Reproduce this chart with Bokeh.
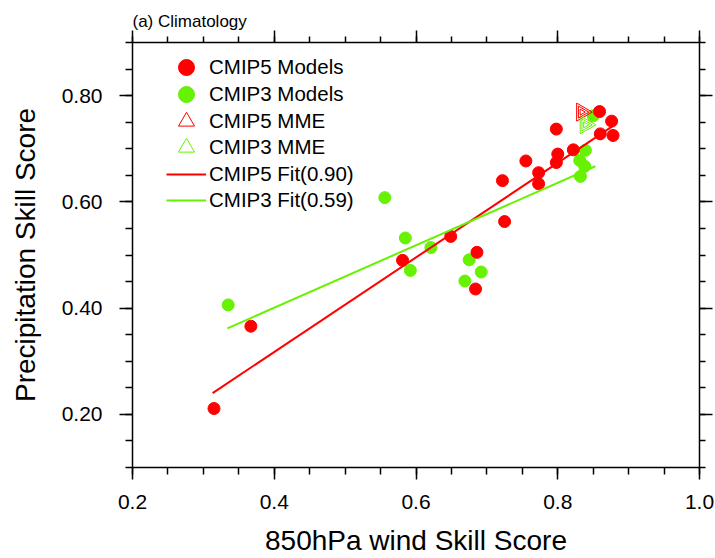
import math
from bokeh.plotting import figure
from bokeh.models import (Range1d, LinearAxis, FixedTicker, NumeralTickFormatter,
                          Legend, LegendItem, CustomLabelingPolicy)
from bokeh.embed import file_html
from bokeh.resources import INLINE

# ---------------- data ----------------
cmip5_x = [0.859, 0.876, 0.798, 0.860, 0.878, 0.822, 0.800, 0.798, 0.755, 0.773,
           0.773, 0.722, 0.725, 0.649, 0.581, 0.686, 0.684, 0.367, 0.315]
cmip5_y = [0.770, 0.752, 0.737, 0.728, 0.725, 0.698, 0.690, 0.674, 0.677, 0.655,
           0.634, 0.640, 0.563, 0.535, 0.490, 0.505, 0.436, 0.366, 0.211]

cmip3_x = [0.850, 0.839, 0.831, 0.838, 0.832, 0.556, 0.585, 0.621, 0.592, 0.675,
           0.692, 0.669, 0.335]
cmip3_y = [0.762, 0.697, 0.678, 0.667, 0.648, 0.608, 0.532, 0.514, 0.471, 0.491,
           0.468, 0.451, 0.406]

mme5_x = [0.834]
mme5_y = [0.769]
mme3_x = [0.839]
mme3_y = [0.745]

fit5_x = [0.313, 0.877]
fit5_y = [0.240, 0.742]
fit3_x = [0.334, 0.853]
fit3_y = [0.362, 0.667]

legend_labels = ["CMIP5 Models", "CMIP3 Models", "CMIP5 MME", "CMIP3 MME",
                 "CMIP5 Fit(0.90)", "CMIP3 Fit(0.59)"]

x_ticks = [0.2, 0.4, 0.6, 0.8, 1.0]
x_minor_ticks = [0.2, 0.25, 0.3, 0.35, 0.4, 0.45, 0.5, 0.55, 0.6, 0.65, 0.7, 0.75,
                 0.8, 0.85, 0.9, 0.95, 1.0]
y_ticks = [0.2, 0.4, 0.6, 0.8]
y_minor_ticks = [0.1, 0.15, 0.2, 0.25, 0.3, 0.35, 0.4, 0.45, 0.5, 0.55, 0.6, 0.65,
                 0.7, 0.75, 0.8, 0.85, 0.9]

title_text = "(a) Climatology"
x_title = "850hPa wind Skill Score"
y_title = "Precipitation Skill Score"

RED = "#ff0000"
GREEN = "#66f200"
FONT = "Liberation Sans"

# ---------------- figure ----------------
FRAME_H = 426
p = figure(width=715, height=558, x_range=Range1d(0.2, 1.0), y_range=Range1d(0.1, 0.9),
           output_backend="svg", toolbar_location=None,
           min_border_left=132, min_border_right=16, min_border_top=42, min_border_bottom=90)
p.grid.visible = False
p.outline_line_color = None
p.background_fill_color = "white"
p.border_fill_color = "white"

p.title.text = title_text
p.title.text_font = FONT
p.title.text_font_size = "17px"
p.title.text_font_style = "normal"
p.title.text_color = "black"
p.title.align = "left"
p.title.standoff = 0
p.title.offset = 0


def style_axis(ax, ticks, minor, major_out, minor_out):
    ax.ticker = FixedTicker(ticks=ticks, minor_ticks=minor)
    ax.major_tick_in = 0
    ax.minor_tick_in = 0
    ax.major_tick_out = major_out
    ax.minor_tick_out = minor_out
    ax.axis_line_color = "black"
    ax.axis_line_width = 1.5
    ax.major_tick_line_color = "black"
    ax.major_tick_line_width = 1.5
    ax.minor_tick_line_color = "black"
    ax.minor_tick_line_width = 1.5
    ax.major_label_text_font = FONT
    ax.major_label_text_color = "black"
    ax.axis_label_text_font = FONT
    ax.axis_label_text_font_style = "normal"
    ax.axis_label_text_color = "black"


xa = p.xaxis[0]
style_axis(xa, x_ticks, x_minor_ticks, 12, 7)
xa.formatter = NumeralTickFormatter(format="0.0")
xa.major_label_text_font_size = "21px"
xa.major_label_standoff = 15
xa.axis_label = x_title
xa.axis_label_text_font_size = "28px"
xa.axis_label_standoff = 13

ya = p.yaxis[0]
style_axis(ya, y_ticks, y_minor_ticks, 13, 7)
ya.formatter = NumeralTickFormatter(format="0.00")
ya.major_label_text_font_size = "21px"
ya.major_label_standoff = 17
ya.axis_label = y_title
ya.axis_label_text_font_size = "28px"
ya.axis_label_standoff = 18

# tick-only axes on the top and right (no labels drawn)
no_labels = CustomLabelingPolicy(code="for (const i of indices) { indices.unset(i) }\nreturn indices")

top = LinearAxis()
style_axis(top, x_ticks, x_minor_ticks, 12, 6)
top.major_label_text_font_size = "0px"
top.major_label_standoff = 0
top.major_label_policy = no_labels
p.add_layout(top, "above")

right = LinearAxis()
style_axis(right, y_ticks, y_minor_ticks, 13, 6)
right.major_label_text_font_size = "0px"
right.major_label_standoff = 0
right.major_label_policy = CustomLabelingPolicy(code="for (const i of indices) { indices.unset(i) }\nreturn indices")
p.add_layout(right, "right")

# ---------------- glyphs ----------------
r3 = p.scatter(cmip3_x, cmip3_y, marker="circle", size=12, fill_color=GREEN, line_color=GREEN)
r5 = p.scatter(cmip5_x, cmip5_y, marker="circle", size=12, fill_color=RED, line_color=RED)
l5 = p.line(fit5_x, fit5_y, line_color=RED, line_width=2)
l3 = p.line(fit3_x, fit3_y, line_color=GREEN, line_width=2)

tri5 = []
tri3 = []
for s in (18, 12, 6):
    tri5.append(p.scatter(mme5_x, mme5_y, marker="triangle", size=s, angle=-math.pi / 2,
                          fill_color=None, line_color=RED, line_width=1))
    tri3.append(p.scatter(mme3_x, mme3_y, marker="triangle", size=s, angle=-math.pi / 2,
                          fill_color=None, line_color=GREEN, line_width=1))

# ---------------- legend: one single-item legend per row ----------------
legend_renderers = [r5, r3, tri5[0], tri3[0], l5, l3]
ROW0 = 26.3      # px below frame top of first row centre
PITCH = 26.6     # px between rows
GLYPH = 42
for i, (lab, rend) in enumerate(zip(legend_labels, legend_renderers)):
    centre = ROW0 + i * PITCH
    vy = FRAME_H - centre - GLYPH / 2
    lg = Legend(items=[LegendItem(label=lab, renderers=[rend])],
                location=(34, vy), glyph_width=40, glyph_height=GLYPH,
                spacing=0, label_standoff=3, padding=0, margin=0,
                border_line_color=None, background_fill_alpha=0,
                label_text_font=FONT, label_text_font_size="20.5px",
                label_text_color="black")
    p.add_layout(lg)

open("out.html", "w").write(file_html(p, INLINE))
